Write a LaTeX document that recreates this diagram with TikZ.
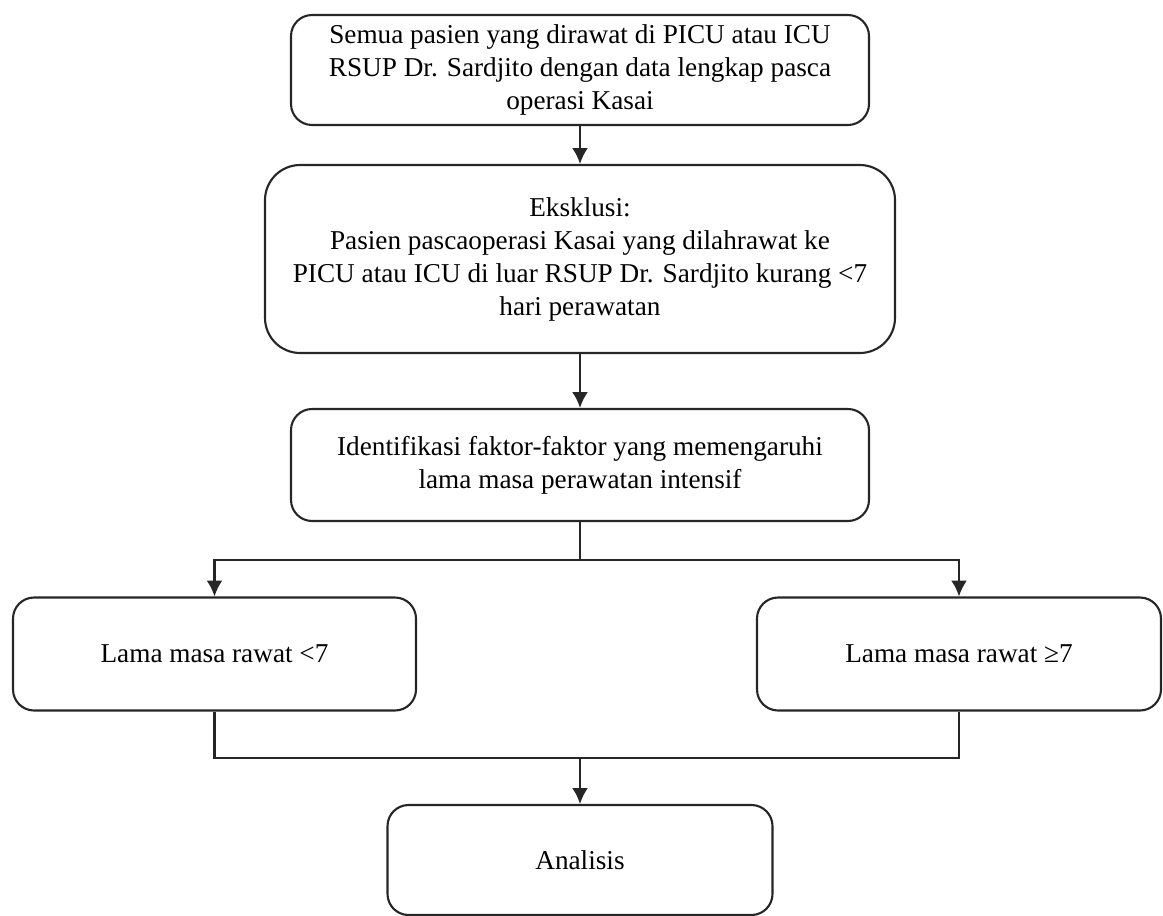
\documentclass[tikz,border=0pt]{standalone}
\usepackage{fontspec}
\setmainfont{Liberation Serif}
\usetikzlibrary{arrows.meta}

\begin{document}
\begin{tikzpicture}[x=0.02cm, y=-0.02cm,
    flowbox/.style={draw=black!85, line width=1.2pt, rounded corners=12pt,
      align=center, inner sep=0pt, font=\fontsize{15.5}{18.8}\selectfont},
    flowarrow/.style={draw=black!85, line width=1.2pt, -{Latex[length=9pt,width=9pt]}},
    flowline/.style={draw=black!85, line width=1.2pt}]
    \useasboundingbox (0,0) rectangle (1163,916);
    \node[flowbox, minimum width=578*0.02cm, minimum height=110*0.02cm] (top) at (580,70)
      {Semua pasien yang dirawat di PICU atau ICU\\RSUP Dr. Sardjito dengan data lengkap pasca\\operasi Kasai};
    \node[flowbox, rounded corners=20pt, minimum width=630*0.02cm, minimum height=188*0.02cm] (excl) at (580,259)
      {Eksklusi:\\Pasien pascaoperasi Kasai yang dilahrawat ke\\PICU atau ICU di luar RSUP Dr. Sardjito kurang <7\\hari perawatan};
    \node[flowbox, minimum width=578*0.02cm, minimum height=112*0.02cm] (ident) at (580,465)
      {Identifikasi faktor-faktor yang memengaruhi\\lama masa perawatan intensif};
    \node[flowbox, minimum width=403*0.02cm, minimum height=113*0.02cm] (lo) at (214.5,654)
      {Lama masa rawat <7};
    \node[flowbox, minimum width=404*0.02cm, minimum height=113*0.02cm] (hi) at (959,654)
      {Lama masa rawat ≥7};
    \node[flowbox, minimum width=385*0.02cm, minimum height=110*0.02cm] (ana) at (580,860)
      {Analisis};
    \coordinate (split) at (580,560);
    \coordinate (merge) at (580,758);

    \draw[flowarrow] (top) -- (excl);
    \draw[flowarrow] (excl) -- (ident);
    \draw[flowline] (ident) -- (split);
    \draw[flowarrow] (split) -| (lo);
    \draw[flowarrow] (split) -| (hi);
    \draw[flowline] (lo) |- (merge) -| (hi);
    \draw[flowarrow] (merge) -- (ana);
  \end{tikzpicture}
\end{document}
